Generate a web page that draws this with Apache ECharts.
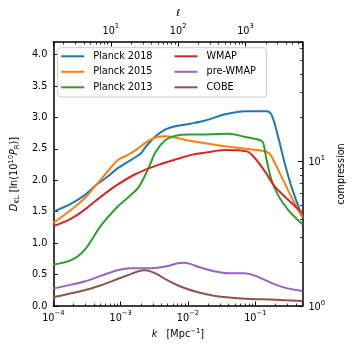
<!DOCTYPE html>
<html><head><meta charset="utf-8">
<script src="https://cdn.jsdelivr.net/npm/echarts@6/dist/echarts.min.js"></script>
<style>html,body{margin:0;padding:0;background:#fff}#c{width:354px;height:354px}</style>
</head><body><div id="c"></div>
<script>
// ---- data (k in Mpc^-1, D_KL in nats) ----
const seriesNames = ['Planck 2018', 'Planck 2015', 'Planck 2013', 'WMAP', 'pre-WMAP', 'COBE'];
const seriesColors = ['#1f77b4', '#ff7f0e', '#2ca02c', '#d62728', '#9467bd', '#8c564b'];

const planck2018K = [1e-4,1.84e-4,2.9e-4,4.06e-4,6.41e-4,8.5e-4,1.0e-3,1.67e-3,2.0e-3,2.35e-3,3.3e-3,4.64e-3,6.52e-3,0.0108,0.0181,0.0356,0.0703,0.147,0.174,0.218,0.273,0.343,0.5];
const planck2018D = [1.50,1.63,1.76,1.90,2.06,2.17,2.22,2.37,2.43,2.53,2.70,2.81,2.86,2.90,2.95,3.05,3.10,3.10,3.04,2.69,2.27,1.90,1.41];

const planck2015K = [1e-4,1.84e-4,2.9e-4,4.06e-4,6.41e-4,9.0e-4,1.26e-3,1.67e-3,2.35e-3,3.3e-3,4.64e-3,6.52e-3,0.0092,0.0181,0.0356,0.0881,0.155,0.195,0.273,0.384,0.5];
const planck2015D = [1.32,1.53,1.71,1.89,2.14,2.32,2.40,2.48,2.60,2.68,2.70,2.68,2.64,2.59,2.54,2.49,2.44,2.27,1.95,1.63,1.41];

const planck2013K = [1e-4,1.84e-4,2.9e-4,5.1e-4,9.0e-4,1.33e-3,1.87e-3,2.63e-3,3.3e-3,4.64e-3,6.52e-3,0.0108,0.0181,0.0398,0.0703,0.117,0.131,0.147,0.174,0.218,0.306,0.5];
const planck2013D = [0.66,0.73,0.89,1.28,1.58,1.74,1.90,2.21,2.45,2.64,2.71,2.73,2.73,2.74,2.69,2.64,2.59,2.32,2.00,1.76,1.53,1.30];

const wmapK = [1e-4,1.84e-4,2.9e-4,5.1e-4,9.0e-4,1.67e-3,3.3e-3,6.52e-3,0.0108,0.0181,0.0356,0.0744,0.0986,0.139,0.195,0.306,0.5];
const wmapD = [1.27,1.39,1.53,1.74,1.93,2.10,2.23,2.33,2.40,2.44,2.48,2.46,2.35,2.14,1.90,1.69,1.48];

const preWmapK = [1e-4,1.84e-4,2.9e-4,5.1e-4,9.0e-4,1.41e-3,2.22e-3,3.5e-3,5.2e-3,7.0e-3,8.6e-3,0.0108,0.0145,0.0254,0.04,0.068,0.1,0.2,0.3,0.5];
const preWmapD = [0.28,0.34,0.39,0.48,0.57,0.60,0.60,0.61,0.64,0.68,0.69,0.67,0.62,0.55,0.52,0.52,0.48,0.34,0.28,0.24];

const cobeK = [1e-4,2.9e-4,5.1e-4,9.0e-4,1.35e-3,1.8e-3,2.25e-3,2.7e-3,3.4e-3,4.92e-3,6.98e-3,0.0128,0.0254,0.0628,0.195,0.5];
const cobeD = [0.14,0.25,0.33,0.43,0.50,0.55,0.57,0.555,0.51,0.41,0.33,0.23,0.16,0.12,0.10,0.08];

const yTickValues = [0.0, 0.5, 1.0, 1.5, 2.0, 2.5, 3.0, 3.5, 4.0];
const kRange = [1e-4, 0.5];
const ellPerK = 14000;          // multipole per unit k for the top axis
const dklMax = 4.2;

// ---- build ----
const allK = [planck2018K, planck2015K, planck2013K, wmapK, preWmapK, cobeK];
const allD = [planck2018D, planck2015D, planck2013D, wmapD, preWmapD, cobeD];

const FONT = 'DejaVu Sans';
const FS = 9.7;
const SUP = 6.8;
const rich = {
  b: {fontFamily: FONT, fontSize: FS, color: '#000', lineHeight: 13, verticalAlign: 'bottom'},
  s: {fontFamily: FONT, fontSize: SUP, color: '#000', lineHeight: 8, verticalAlign: 'top'},
  sub: {fontFamily: FONT, fontSize: SUP, color: '#000', lineHeight: 8, verticalAlign: 'bottom'},
  i: {fontFamily: FONT, fontSize: FS, color: '#000', fontStyle: 'italic', lineHeight: 13, verticalAlign: 'middle'},
  m: {fontFamily: FONT, fontSize: FS, color: '#000', lineHeight: 13, verticalAlign: 'middle'}
};
function powLabel(v) {
  const e = Math.round(Math.log10(v));
  if (Math.abs(v / Math.pow(10, e) - 1) > 1e-6) return '';
  return '{b|10}{s|' + (e < 0 ? '\u2212' + (-e) : e) + '}';
}
const black = '#000';
const axisLineStyle = {show: true, onZero: false, lineStyle: {color: black, width: 1.5}};
const majorTick = {show: true, inside: true, length: 4.5, lineStyle: {color: black, width: 1}};
const minorTick = {show: true, splitNumber: 9, length: 2.5, lineStyle: {color: black, width: 0.8}};

const series = seriesNames.map((name, s) => ({
  name: name,
  type: 'line',
  xAxisIndex: 0,
  yAxisIndex: 0,
  showSymbol: false,
  smooth: 0.35,
  lineStyle: {width: 2, color: seriesColors[s]},
  itemStyle: {color: seriesColors[s]},
  data: allK[s].map((k, i) => [k, allD[s][i]])
}));

const legendText = {fontFamily: FONT, fontSize: FS, color: black, lineHeight: 12, padding: [0, 0, 0, 4]};
const option = {
  animation: false,
  backgroundColor: '#fff',
  grid: {left: 52, right: 51.3, top: 42, bottom: 48, containLabel: false},
  legend: [
    {
      data: seriesNames.slice(0, 3), orient: 'vertical', left: 57.7, top: 47.7,
      padding: [2.6, 114, 3.7, 3.5], itemGap: 3.5, itemWidth: 23, itemHeight: 2, icon: 'rect',
      textStyle: legendText, backgroundColor: 'rgba(255,255,255,0.8)',
      borderColor: '#cccccc', borderWidth: 1, borderRadius: 3
    },
    {
      data: seriesNames.slice(3), orient: 'vertical', left: 174.5, top: 50.3,
      padding: 0, itemGap: 3.5, itemWidth: 23, itemHeight: 2, icon: 'rect',
      textStyle: legendText
    }
  ],
  xAxis: [
    {
      type: 'log', min: kRange[0], max: kRange[1], position: 'bottom',
      axisLine: axisLineStyle, axisTick: majorTick, minorTick: minorTick,
      splitLine: {show: false}, minorSplitLine: {show: false},
      axisLabel: {formatter: powLabel, rich: rich, margin: 4, color: black},
      name: '{i|k}{m|   [Mpc}{s|\u22121}{m|]}', nameLocation: 'middle', nameGap: 19,
      nameTextStyle: {rich: rich}
    },
    {
      type: 'log', min: kRange[0] * ellPerK, max: kRange[1] * ellPerK, position: 'top',
      axisLine: axisLineStyle, axisTick: majorTick, minorTick: minorTick,
      splitLine: {show: false}, minorSplitLine: {show: false},
      axisLabel: {formatter: powLabel, rich: rich, margin: 6, color: black},
      name: '\u2113', nameLocation: 'middle', nameGap: 24,
      nameTextStyle: {fontFamily: FONT, fontSize: FS, color: black}
    }
  ],
  yAxis: [
    {
      type: 'value', min: 0, max: dklMax, interval: 0.5, position: 'left',
      axisLine: axisLineStyle,
      axisTick: Object.assign({customValues: yTickValues}, majorTick),
      splitLine: {show: false},
      axisLabel: {customValues: yTickValues, formatter: v => v.toFixed(1), fontFamily: FONT, fontSize: FS, color: black, margin: 6},
      name: '{i|D}{sub|KL}{m| [ln(10}{s|10}{i|P}{sub|R}{m|)]}', nameLocation: 'middle', nameGap: 28, nameRotate: 90,
      nameTextStyle: {rich: rich}
    },
    {
      type: 'log', min: 1, max: Math.exp(dklMax), position: 'right',
      axisLine: axisLineStyle, axisTick: majorTick, minorTick: minorTick,
      splitLine: {show: false}, minorSplitLine: {show: false},
      axisLabel: {formatter: powLabel, rich: rich, margin: 6, color: black},
      name: 'compression', nameLocation: 'middle', nameGap: 25, nameRotate: 90,
      nameTextStyle: {fontFamily: FONT, fontSize: FS, color: black}
    }
  ],
  series: series
};
const chart = echarts.init(document.getElementById('c'), null, {renderer: 'canvas'});
chart.setOption(option);
</script>
</body></html>
